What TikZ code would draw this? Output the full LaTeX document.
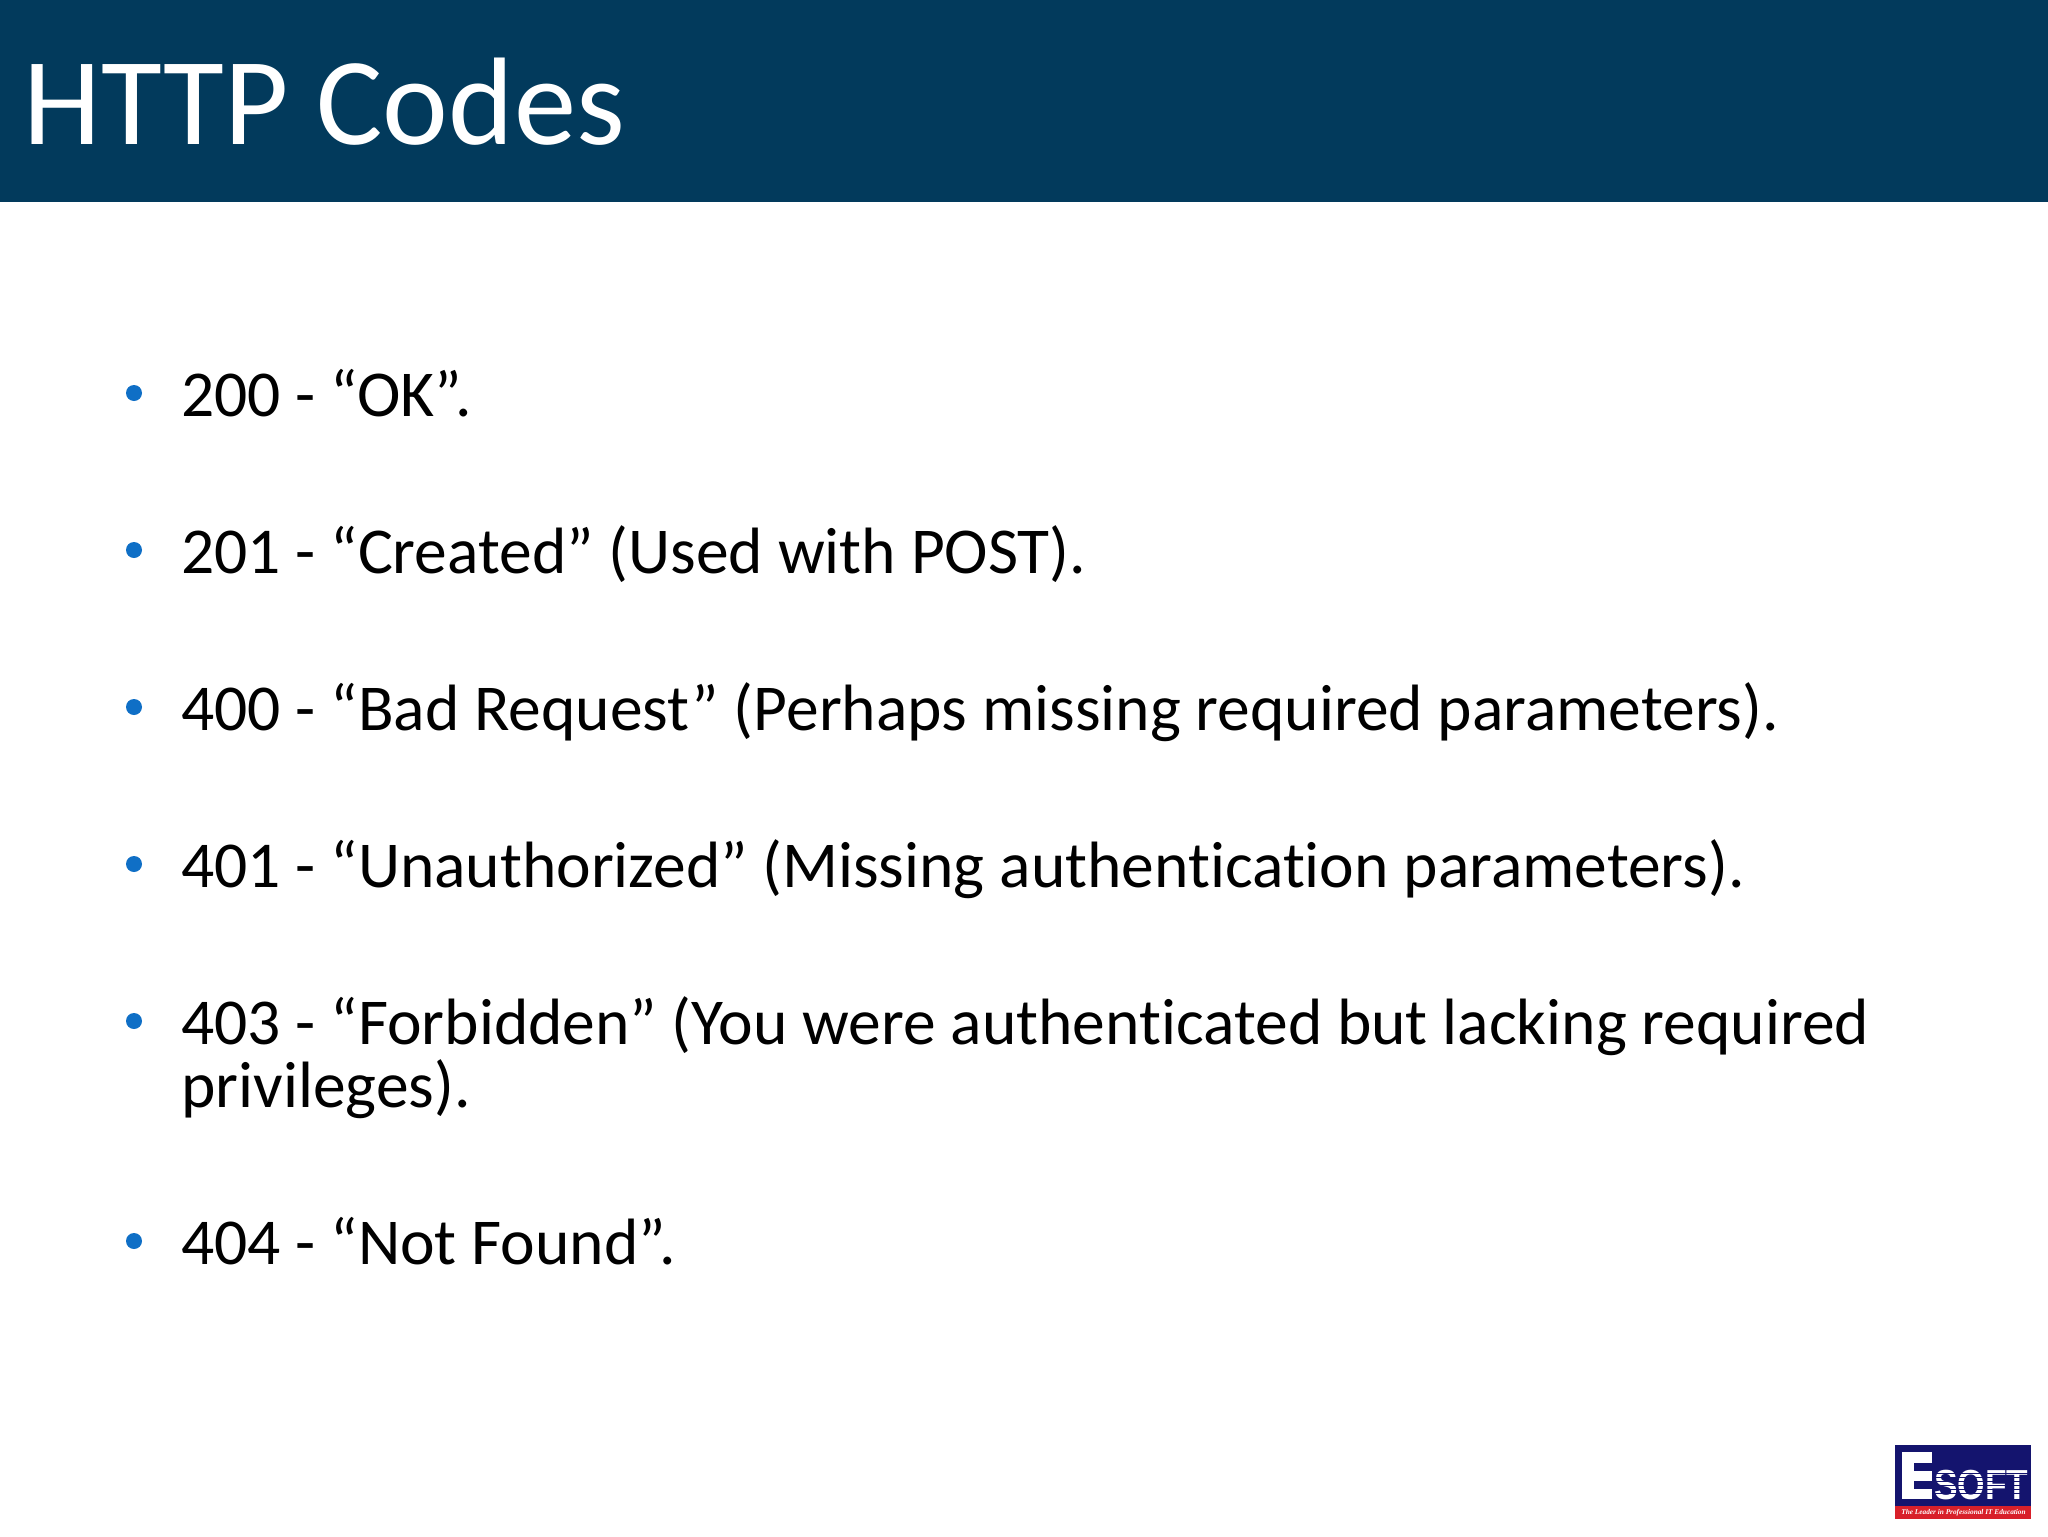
\documentclass[tikz,border=0pt]{standalone}
\usepackage{fontspec}
\setmainfont[Ligatures=CommonOff]{Carlito}
\newfontfamily\logosans{Liberation Sans}
\newfontfamily\logoserif{Liberation Serif}
\definecolor{hdr}{HTML}{023A5C}
\definecolor{bul}{HTML}{0F6FC6}
\definecolor{logob}{HTML}{14146E}
\definecolor{logor}{HTML}{D8202A}
\tikzset{
  bodytext/.style={anchor=base west,inner sep=0pt,text=black,font=\fontsize{32.75pt}{32.75pt}\selectfont},
  bulletdot/.style={circle,fill=bul,inner sep=0pt,minimum size=8pt},
  titletext/.style={anchor=base west,inner sep=0pt,text=white,font=\fontsize{62.3pt}{62.3pt}\selectfont},
}
\begin{document}
\begin{tikzpicture}[x=0.5pt,y=-0.5pt]
\useasboundingbox (0,0) rectangle (2048,1536);
\fill[white] (0,0) rectangle (2048,1536);
\fill[hdr] (0,0) rectangle (2048,202);
\node[titletext] (title) at (23,144.5) {HTTP Codes};
\node[bulletdot] (b1) at (134,393) {};
\node[bodytext] (t1) at (181,416.5) {200 - “OK”.};
\node[bulletdot] (b2) at (134,550) {};
\node[bodytext] (t2) at (181,573.5) {201 - “Created” (Used with POST).};
\node[bulletdot] (b3) at (134,707) {};
\node[bodytext] (t3) at (181,730.5) {400 - “Bad Request” (Perhaps missing required parameters).};
\node[bulletdot] (b4) at (134,864) {};
\node[bodytext] (t4) at (181,887.5) {401 - “Unauthorized” (Missing authentication parameters).};
\node[bulletdot] (b5) at (134,1021) {};
\node[bodytext] (t5) at (181,1044.5) {403 - “Forbidden” (You were authenticated but lacking required};
\node[bodytext] (t5b) at (181,1107.5) {privileges).};
\node[bulletdot] (b6) at (134,1241) {};
\node[bodytext] (t6) at (181,1264.5) {404 - “Not Found”.};
% logo
\fill[logob] (1895,1445) rectangle (2031,1506);
\fill[logor] (1895,1506) rectangle (2031,1519);
\fill[white] (1902,1452) rectangle (1932,1499);
\fill[logob] (1914,1463) rectangle (1932,1471);
\fill[logob] (1914,1481) rectangle (1932,1489);
\node[anchor=base west,inner sep=0pt,text=white,xscale=0.84,font=\logosans\fontsize{21pt}{21pt}\bfseries\selectfont] (soft) at (1934,1499) {SOFT};
\foreach \yy in {1473,1477,1481,1485,1489,1493}
  \fill[logob] (1933,\yy) rectangle (2029,\yy+1.2);
\node[anchor=center,inner sep=0pt,text=white,font=\logoserif\fontsize{3.65pt}{3.65pt}\itshape\bfseries\selectfont] (tag) at (1963.5,1512.5) {The Leader in Professional IT Education};
\end{tikzpicture}
\end{document}
